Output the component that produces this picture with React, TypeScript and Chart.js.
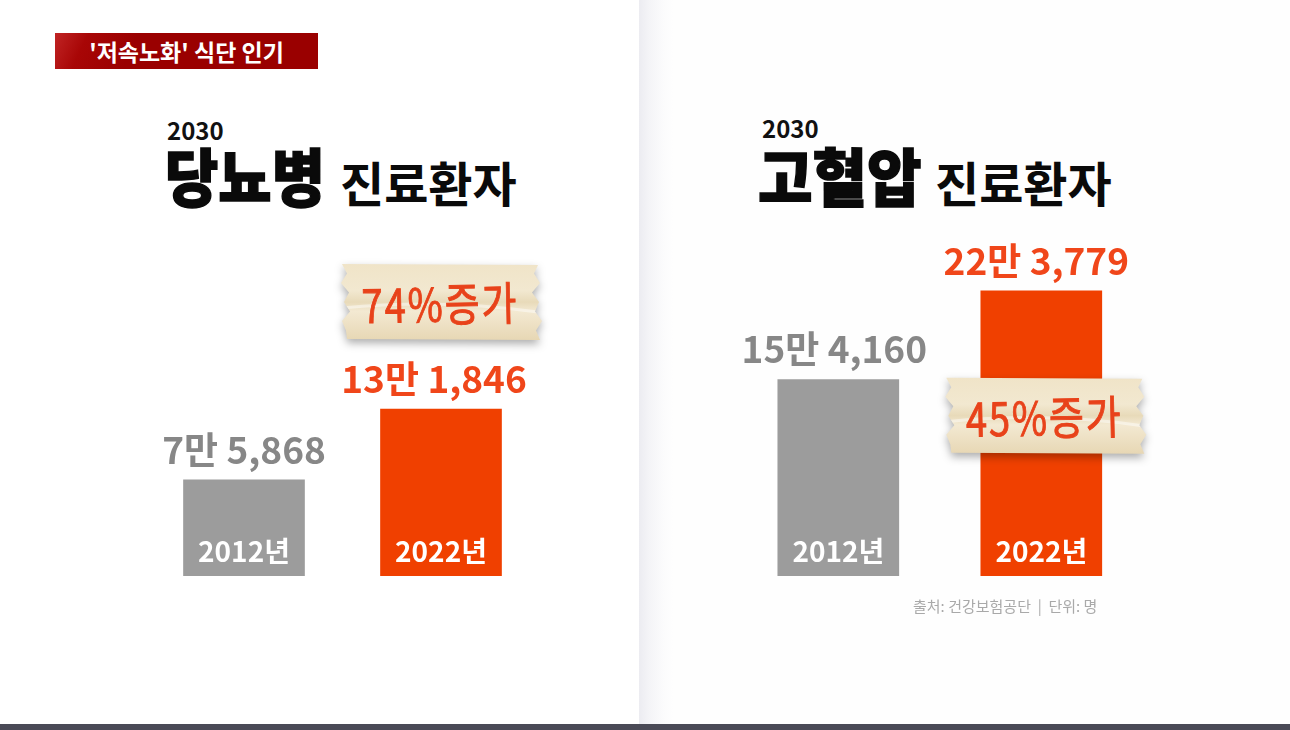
import React, { useEffect, useRef } from "react";
import { Chart, registerables } from "chart.js";

Chart.register(...registerables);

// ---------------- data ----------------
const categories = ["2012년", "2022년"];
const diabetesPatients = [75868, 131846];
const hypertensionPatients = [154160, 223779];
const diabetesChange = "74%";
const hypertensionChange = "45%";
const changeWord = "증가";
const yAxisMax = 250000;

const bannerText = "'저속노화' 식단 인기";
const titleYear = "2030";
const diabetesTitle = "당뇨병";
const hypertensionTitle = "고혈압";
const titleSuffix = "진료환자";
const sourceNote = "출처: 건강보험공단  |  단위: 명";

// ---------------- styles ----------------
const FONT = "'Noto Sans CJK KR', 'Noto Sans', sans-serif";
const GRAY_BAR = "#9c9c9c";
const ORANGE_BAR = "#f04000";
const GRAY_TEXT = "#878787";
const ORANGE_TEXT = "#f0461a";

function formatKorean(v: number): string {
  const man = Math.floor(v / 10000);
  const rest = v % 10000;
  return `${man}만 ${rest.toLocaleString("en-US")}`;
}

function drawTape(ctx: CanvasRenderingContext2D, cx: number, cy: number, w: number, h: number, text: string) {
  ctx.save();
  const l = cx - w / 2;
  const r = cx + w / 2;
  const t = cy - h / 2;
  const b = cy + h / 2;
  const leftJag = [0, 5, -1, 7, 2, 8, 0, 4, 1];
  const rightJag = [0, -4, 2, -6, 1, -3, 4, -2, 2];
  ctx.beginPath();
  ctx.moveTo(l + leftJag[0], t);
  ctx.lineTo(r + rightJag[0], t + 1);
  for (let i = 1; i < rightJag.length; i++) {
    const y = t + (h * i) / (rightJag.length - 1);
    ctx.lineTo(r + rightJag[i], y);
  }
  ctx.lineTo(l + leftJag[leftJag.length - 1] + 4, b - 1);
  for (let i = leftJag.length - 2; i >= 1; i--) {
    const y = t + (h * i) / (leftJag.length - 1);
    ctx.lineTo(l + leftJag[i], y);
  }
  ctx.closePath();
  ctx.shadowColor = "rgba(0,0,0,0.32)";
  ctx.shadowBlur = 9;
  ctx.shadowOffsetY = 4;
  const g = ctx.createLinearGradient(0, t, 0, b);
  g.addColorStop(0, "#f0e4c8");
  g.addColorStop(0.35, "#f2e8d0");
  g.addColorStop(0.5, "#e8dab9");
  g.addColorStop(0.62, "#f3e9d2");
  g.addColorStop(1, "#e7d7b4");
  ctx.fillStyle = g;
  ctx.fill();
  ctx.shadowColor = "transparent";
  ctx.clip();
  ctx.strokeStyle = "rgba(255,255,255,0.45)";
  ctx.lineWidth = 3;
  ctx.beginPath();
  ctx.moveTo(l, cy + 6);
  ctx.quadraticCurveTo(cx, cy - 4, r, cy + 10);
  ctx.stroke();
  ctx.restore();

  ctx.save();
  ctx.fillStyle = "#e8421a";
  ctx.strokeStyle = "#e8421a";
  ctx.lineWidth = 0.8;
  ctx.font = `400 40px ${FONT}`;
  (ctx as any).letterSpacing = "2px";
  ctx.textAlign = "center";
  ctx.textBaseline = "middle";
  ctx.translate(cx, cy + 2);
  ctx.rotate(-0.02);
  ctx.scale(0.95, 1.15);
  ctx.fillText(text, 0, 0);
  ctx.strokeText(text, 0, 0);
  ctx.restore();
}

const barLabelsPlugin = {
  id: "barLabels",
  afterDatasetsDraw(chart: any, _args: any, opts: any) {
    const ctx: CanvasRenderingContext2D = chart.ctx;
    const meta = chart.getDatasetMeta(0);
    const values = chart.data.datasets[0].data as number[];
    meta.data.forEach((bar: any, i: number) => {
      const { x, y, base } = bar.getProps(["x", "y", "base"], true);
      ctx.save();
      ctx.textAlign = "center";
      ctx.textBaseline = "alphabetic";
      ctx.font = `700 37px ${FONT}`;
      ctx.fillStyle = opts.labelColors[i];
      ctx.fillText(formatKorean(values[i]), x + opts.labelShift[i], y - 16);
      ctx.font = `700 28px ${FONT}`;
      ctx.fillStyle = "#ffffff";
      ctx.fillText(String(chart.data.labels[i]), x, base - 14);
      ctx.restore();
    });
    const tb = meta.data[opts.tapeIndex];
    drawTape(ctx, tb.x + opts.tapeDx, tb.y + opts.tapeDy, 196, 76, opts.tapeText);
  },
};

function PanelChart(props: {
  values: number[];
  padding: { left: number; right: number; top: number; bottom: number };
  labelShift: number[];
  tapeText: string;
  tapeDx: number;
  tapeDy: number;
  style: React.CSSProperties;
}) {
  const ref = useRef<HTMLCanvasElement>(null);
  useEffect(() => {
    const chart = new Chart(ref.current as HTMLCanvasElement, {
      type: "bar",
      data: {
        labels: categories,
        datasets: [
          {
            data: props.values,
            backgroundColor: [GRAY_BAR, ORANGE_BAR],
            barThickness: 121,
            borderWidth: 0,
          },
        ],
      },
      options: {
        animation: false,
        responsive: true,
        maintainAspectRatio: false,
        events: [],
        layout: { padding: props.padding },
        scales: {
          x: { display: false },
          y: { display: false, min: 0, max: yAxisMax },
        },
        plugins: {
          legend: { display: false },
          tooltip: { enabled: false },
          // @ts-ignore
          barLabels: {
            labelColors: [GRAY_TEXT, ORANGE_TEXT],
            labelShift: props.labelShift,
            tapeIndex: 1,
            tapeText: props.tapeText,
            tapeDx: props.tapeDx,
            tapeDy: props.tapeDy,
          },
        },
      },
      plugins: [barLabelsPlugin as any],
    });
    return () => chart.destroy();
  }, []);
  return (
    <div style={{ position: "absolute", ...props.style }}>
      <canvas ref={ref} />
    </div>
  );
}

const abs = (left: number, top: number, extra: React.CSSProperties = {}): React.CSSProperties => ({
  position: "absolute",
  left,
  top,
  whiteSpace: "pre",
  lineHeight: 1,
  fontFamily: FONT,
  ...extra,
});

export default function App() {
  return (
    <div
      style={{
        position: "fixed",
        left: 0,
        top: 0,
        width: 1290,
        height: 730,
        background: "#ffffff",
        overflow: "hidden",
        fontFamily: FONT,
      }}
    >
      <div
        style={{
          position: "absolute",
          left: 639,
          top: 0,
          width: 651,
          height: 730,
          background:
            "linear-gradient(to right, #ececf1 0px, #f4f4f7 10px, #fbfbfc 24px, #fefefe 34px, #fefefe 100%)",
        }}
      />
      <div
        style={{
          position: "absolute",
          left: 55,
          top: 33,
          width: 263,
          height: 36,
          background: "linear-gradient(115deg, #c02424 0%, #a80606 12%, #9a0000 30%, #9a0000 100%)",
          color: "#ffffff",
          fontFamily: FONT,
          fontWeight: 700,
          fontSize: 23,
          lineHeight: "36px",
          textAlign: "center",
          whiteSpace: "pre",
        }}
      >
        {bannerText}
      </div>

      <div style={abs(167, 117.5, { fontSize: 24, fontWeight: 700, color: "#111" })}>{titleYear}</div>
      <div
        style={abs(165, 142, {
          fontSize: 63,
          fontWeight: 900,
          color: "#0a0a0a",
          transform: "scaleX(0.92)",
          transformOrigin: "left top",
          WebkitTextStroke: "1.5px #0a0a0a",
        })}
      >
        {diabetesTitle}
      </div>
      <div style={abs(340, 157, { fontSize: 48, fontWeight: 700, color: "#0a0a0a" })}>{titleSuffix}</div>

      <div style={abs(762, 115.5, { fontSize: 24, fontWeight: 700, color: "#111" })}>{titleYear}</div>
      <div
        style={abs(758, 142, {
          fontSize: 63,
          fontWeight: 900,
          color: "#0a0a0a",
          transform: "scaleX(0.94)",
          transformOrigin: "left top",
          WebkitTextStroke: "1.5px #0a0a0a",
        })}
      >
        {hypertensionTitle}
      </div>
      <div style={abs(935, 157, { fontSize: 48, fontWeight: 700, color: "#0a0a0a" })}>{titleSuffix}</div>

      <PanelChart
        values={diabetesPatients}
        padding={{ left: 5.5, right: 20.5, top: 29.5, bottom: 24 }}
        labelShift={[0, -7]}
        tapeText={`${diabetesChange}${changeWord}`}
        tapeDx={-1}
        tapeDy={-107}
        style={{ left: 140, top: 230, width: 420, height: 370 }}
      />
      <PanelChart
        values={hypertensionPatients}
        padding={{ left: 6.8, right: 17.2, top: 27.3, bottom: 24 }}
        labelShift={[-4, -5]}
        tapeText={`${hypertensionChange}${changeWord}`}
        tapeDx={3}
        tapeDy={125}
        style={{ left: 730, top: 230, width: 430, height: 370 }}
      />

      <div style={abs(913, 598, { fontSize: 15, color: "#a9a9a9" })}>{sourceNote}</div>

      <div style={{ position: "absolute", left: 0, top: 724, width: 1290, height: 6, background: "#4a4a56" }} />
    </div>
  );
}
